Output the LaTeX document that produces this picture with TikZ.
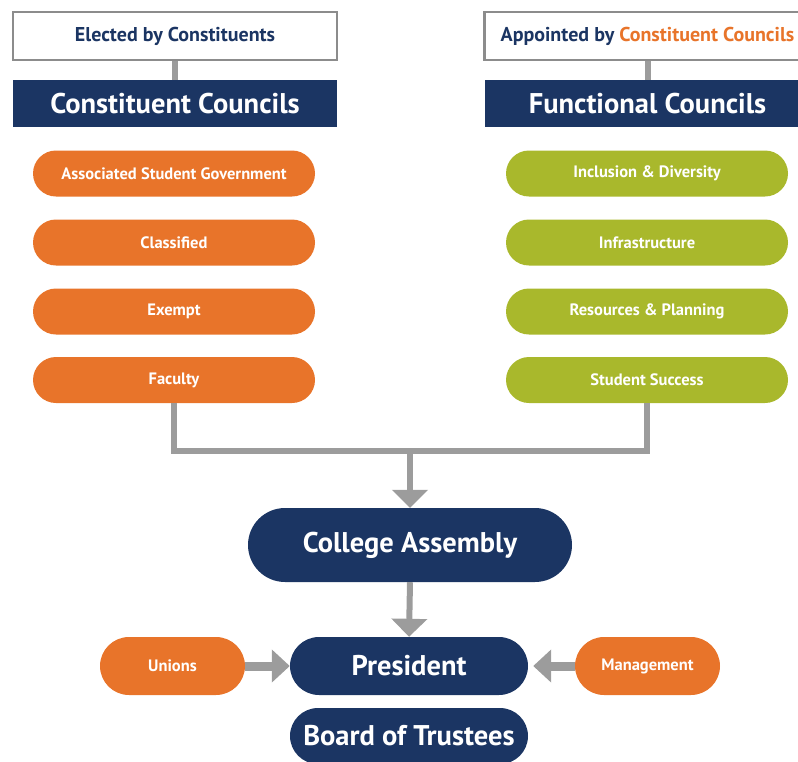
\documentclass[tikz,border=0pt]{standalone}
\usepackage{fontspec}
\setmainfont{PT Sans}
\usetikzlibrary{shapes.misc,arrows.meta}
\definecolor{navy}{HTML}{1B3563}
\definecolor{orng}{HTML}{E8742A}
\definecolor{olive}{HTML}{A9B82C}
\definecolor{conngray}{HTML}{9C9C9C}
\definecolor{boxgray}{HTML}{8C8C8C}
\begin{document}
\begin{tikzpicture}[x=1pt,y=-1pt,
  labelbox/.style={draw=boxgray,line width=2.5pt,fill=white,minimum width=324pt,minimum height=48pt,inner sep=0pt,text=navy,font=\fontsize{20}{22}\selectfont\bfseries},
  headbox/.style={fill=navy,minimum width=324pt,minimum height=47pt,inner sep=0pt,text=white,font=\fontsize{28.5}{32}\selectfont\bfseries},
  pill/.style={rounded rectangle,minimum width=282pt,minimum height=46pt,inner sep=0pt,text=white,font=\fontsize{16.5}{18}\selectfont\bfseries},
  opill/.style={pill,fill=orng},
  gpill/.style={pill,fill=olive},
  bigpill/.style={rounded rectangle,fill=navy,inner sep=0pt,text=white,font=\fontsize{28.5}{32}\selectfont\bfseries},
  conn/.style={draw=conngray,line width=6pt},
  arr/.style={conn,-{Triangle[width=35pt,length=18pt]}},
  sarr/.style={draw=conngray,line width=9pt,-{Triangle[width=32pt,length=18pt]}}
]
\useasboundingbox (0,0) rectangle (798,761);
% top labels
\node[labelbox] (elect) at (175,36) {Elected by Constituents};
\node[labelbox,minimum width=326pt] (appt) at (647.5,36) {Appointed by \textcolor{orng}{Constituent Councils}};
\node[headbox] (cc) at (175,103.5) {Constituent Councils};
\node[headbox,minimum width=326pt] (fc) at (647.5,103.5) {Functional Councils};
\draw[conn] (elect.south) -- (cc.north);
\draw[conn] (appt.south) -- (fc.north);
% orange pills
\node[opill] (asg) at (174,173.5) {Associated Student Government};
\node[opill] (cls) at (174,242.5) {Classified};
\node[opill] (exm) at (174,311.5) {Exempt};
\node[opill] (fac) at (174,380) {Faculty};
% green pills
\node[gpill] (inc) at (647,173.5) {Inclusion \& Diversity};
\node[gpill] (inf) at (647,242.5) {Infrastructure};
\node[gpill] (rp) at (647,311.5) {Resources \& Planning};
\node[gpill] (ss) at (647,380) {Student Success};
% lower part
\node[bigpill,minimum width=324pt,minimum height=74pt] (ca) at (410,545) {College Assembly};
\node[bigpill,minimum width=238pt,minimum height=58pt] (pres) at (409,666) {President};
\node[bigpill,minimum width=238pt,minimum height=56pt] (bot) at (409,736) {Board of Trustees};
\node[pill,fill=orng,minimum width=145pt,minimum height=58pt] (uni) at (172.5,666) {Unions};
\node[pill,fill=orng,minimum width=145pt,minimum height=58pt] (mgt) at (647.5,666) {Management};
% connectors
\coordinate (j) at (410,451);
\draw[conn,line join=miter] (fac.south) |- (j) -| (ss.south);
\draw[arr] ([yshift=-3pt]j) -- (ca.north);
\draw[arr] (ca.south) -- (pres.north);
\draw[sarr] (uni.east) -- (pres.west);
\draw[sarr] (mgt.west) -- ([xshift=5pt]pres.east);
\end{tikzpicture}
\end{document}
